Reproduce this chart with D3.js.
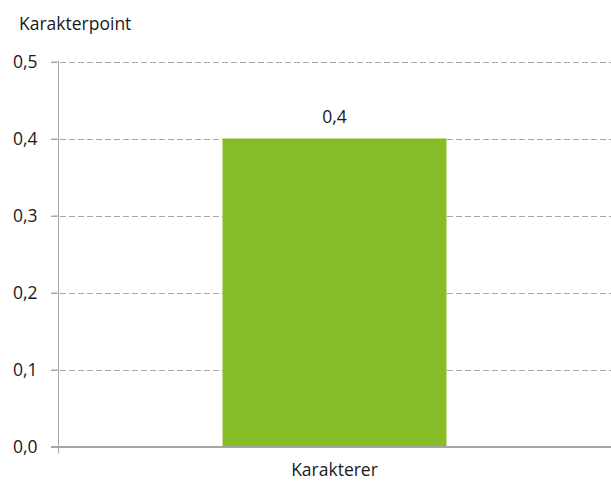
<!DOCTYPE html>
<html>
<head>
<meta charset="utf-8">
<script src="https://d3js.org/d3.v7.min.js"></script>
<style>
  body { margin: 0; background: #fff; }
  text { font-family: "Open Sans", sans-serif; }
</style>
</head>
<body>
<div id="chart"></div>
<script>
// data
var categories = ["Karakterer"];
var values = [0.4];
var yTicks = [0, 0.1, 0.2, 0.3, 0.4, 0.5];

var w = 611, h = 481;
var margin = { top: 62, right: 0, bottom: 34, left: 58 };
var fontSize = "17.5px";

var svg = d3.select("#chart").append("svg")
    .attr("width", w)
    .attr("height", h);

var x = d3.scaleBand()
    .domain(categories)
    .range([margin.left, w - margin.right])
    .padding(0.4235);

var y = d3.scaleLinear()
    .domain([0, 0.5])
    .range([h - margin.bottom - 0.5, margin.top - 0.5]);

var fmt = function(d) { return d3.format(".1f")(d).replace(".", ","); };

// gridlines
svg.selectAll("line.grid")
    .data(yTicks.filter(function(d) { return d > 0; }))
    .enter().append("line")
    .attr("class", "grid")
    .attr("x1", margin.left - 7)
    .attr("x2", w)
    .attr("y1", function(d) { return Math.round(y(d)) + 0.5; })
    .attr("y2", function(d) { return Math.round(y(d)) + 0.5; })
    .attr("stroke", "#a6a6a6")
    .attr("stroke-width", 1)
    .attr("stroke-dasharray", "6,3");

// bars
svg.selectAll("rect.bar")
    .data(values)
    .enter().append("rect")
    .attr("class", "bar")
    .attr("x", function(d, i) { return x(categories[i]); })
    .attr("y", function(d) { return y(d); })
    .attr("width", x.bandwidth())
    .attr("height", function(d) { return y(0) - y(d); })
    .attr("fill", "#86bc25");

// value labels
svg.selectAll("text.val")
    .data(values)
    .enter().append("text")
    .attr("class", "val")
    .attr("x", function(d, i) { return x(categories[i]) + x.bandwidth() / 2; })
    .attr("y", function(d) { return y(d) - 16; })
    .attr("text-anchor", "middle")
    .style("font-size", fontSize)
    .style("fill", "#1a1a1a")
    .text(function(d) { return fmt(d); });

// y axis
var yAxis = d3.axisLeft(y)
    .tickValues(yTicks)
    .tickSize(7)
    .tickPadding(14)
    .tickFormat(fmt);

var gy = svg.append("g")
    .attr("transform", "translate(" + (margin.left + 0.5) + ",0)")
    .call(yAxis);
gy.select(".domain").remove();
gy.append("line")
    .attr("x1", 0).attr("x2", 0)
    .attr("y1", y(0.5)).attr("y2", y(0) + 7)
    .attr("stroke", "#a6a6a6");
gy.selectAll(".tick line").attr("stroke", "#a6a6a6");
gy.selectAll(".tick text")
    .style("font-size", fontSize)
    .style("font-family", "Open Sans, sans-serif")
    .style("fill", "#1a1a1a");

// x axis
svg.append("line")
    .attr("x1", margin.left - 7)
    .attr("x2", w)
    .attr("y1", y(0) + 0.5)
    .attr("y2", y(0) + 0.5)
    .attr("stroke", "#a6a6a6")
    .attr("stroke-width", 2);

svg.selectAll("text.cat")
    .data(categories)
    .enter().append("text")
    .attr("class", "cat")
    .attr("x", function(d) { return x(d) + x.bandwidth() / 2; })
    .attr("y", 476)
    .attr("text-anchor", "middle")
    .style("font-size", fontSize)
    .style("fill", "#1a1a1a")
    .text(function(d) { return d; });

// y axis title
svg.append("text")
    .attr("x", 19)
    .attr("y", 30)
    .style("font-size", fontSize)
    .style("fill", "#1a1a1a")
    .text("Karakterpoint");
</script>
</body>
</html>
